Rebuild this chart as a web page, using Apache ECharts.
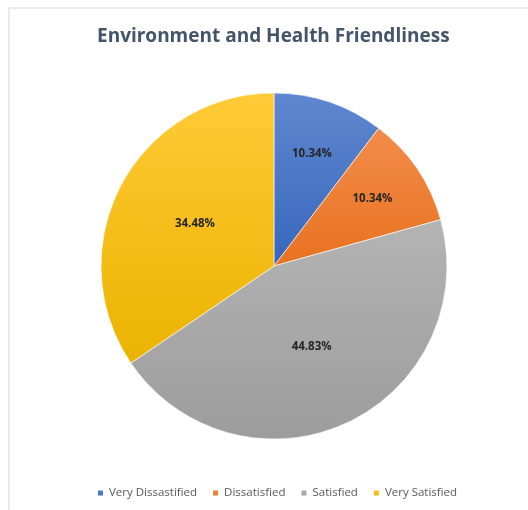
<!DOCTYPE html>
<html>
<head>
<meta charset="utf-8">
<script src="https://cdn.jsdelivr.net/npm/echarts@6/dist/echarts.min.js"></script>
<style>
  html, body { margin: 0; padding: 0; background: #ffffff; }
  #chart { width: 528px; height: 510px; }
</style>
</head>
<body>
<div id="chart"></div>
<script>
// Survey responses, share of respondents (%)
const categories = ['Very Dissastified', 'Dissatisfied', 'Satisfied', 'Very Satisfied'];
const shares = [10.34, 10.34, 44.83, 34.48];
// Narrow slices get their label pushed further out from the centre
const outerLabel = [true, true, false, false];

// Slice fills: lighter at the top, darker at the bottom
const fillTop = ['#6088d0', '#f28c4a', '#b4b4b4', '#ffca36'];
const fillBottom = ['#3766bb', '#e8721f', '#9c9c9c', '#ebb300'];
const swatch = ['#4472c4', '#ed7d31', '#a5a5a5', '#ffc000'];

const labelStyle = {
  position: 'inside',
  formatter: (p) => p.value.toFixed(2) + '%',
  fontFamily: 'Open Sans',
  fontSize: 11.5,
  fontWeight: 'bold',
  color: '#262626'
};

const chart = echarts.init(document.getElementById('chart'), null, { renderer: 'canvas' });

const sliceData = categories.map((name, i) => ({
  name,
  value: shares[i],
  label: { show: !outerLabel[i] },
  itemStyle: {
    color: new echarts.graphic.LinearGradient(0, 0, 0, 1, [
      { offset: 0, color: fillTop[i] },
      { offset: 1, color: fillBottom[i] }
    ])
  }
}));

const labelData = categories.map((name, i) => ({
  name,
  value: shares[i],
  label: { show: outerLabel[i] }
}));

chart.setOption({
  backgroundColor: '#ffffff',
  animation: false,
  color: swatch,
  title: {
    text: 'Environment and Health Friendliness',
    left: 92,
    top: 22,
    textStyle: {
      fontFamily: 'Open Sans',
      fontSize: 19,
      fontWeight: 'bold',
      color: '#44546a'
    }
  },
  legend: {
    data: categories,
    bottom: 6,
    left: 91,
    icon: 'rect',
    itemWidth: 7,
    itemHeight: 7,
    itemGap: 14,
    textStyle: {
      fontFamily: 'Open Sans',
      fontSize: 11.5,
      color: '#595959'
    }
  },
  graphic: [{
    type: 'rect',
    shape: { x: 9, y: 8, width: 700, height: 700 },
    style: { fill: 'none', stroke: '#e1e4ea', lineWidth: 1.5 },
    silent: true,
    z: -10
  }],
  series: [
    {
      name: 'Slices',
      type: 'pie',
      center: [274, 266],
      radius: [0, 173],
      startAngle: 90,
      clockwise: true,
      avoidLabelOverlap: false,
      label: labelStyle,
      labelLine: { show: false },
      itemStyle: { borderColor: '#ffffff', borderWidth: 0.6 },
      data: sliceData,
      z: 2
    },
    {
      // Transparent ring used only to place labels of the narrow slices further out
      name: 'Labels',
      type: 'pie',
      center: [274, 266],
      radius: [0, 232],
      startAngle: 90,
      clockwise: true,
      silent: true,
      avoidLabelOverlap: false,
      itemStyle: { color: 'rgba(0,0,0,0)', borderWidth: 0 },
      label: labelStyle,
      labelLine: { show: false },
      data: labelData,
      z: 3
    }
  ]
});
</script>
</body>
</html>
